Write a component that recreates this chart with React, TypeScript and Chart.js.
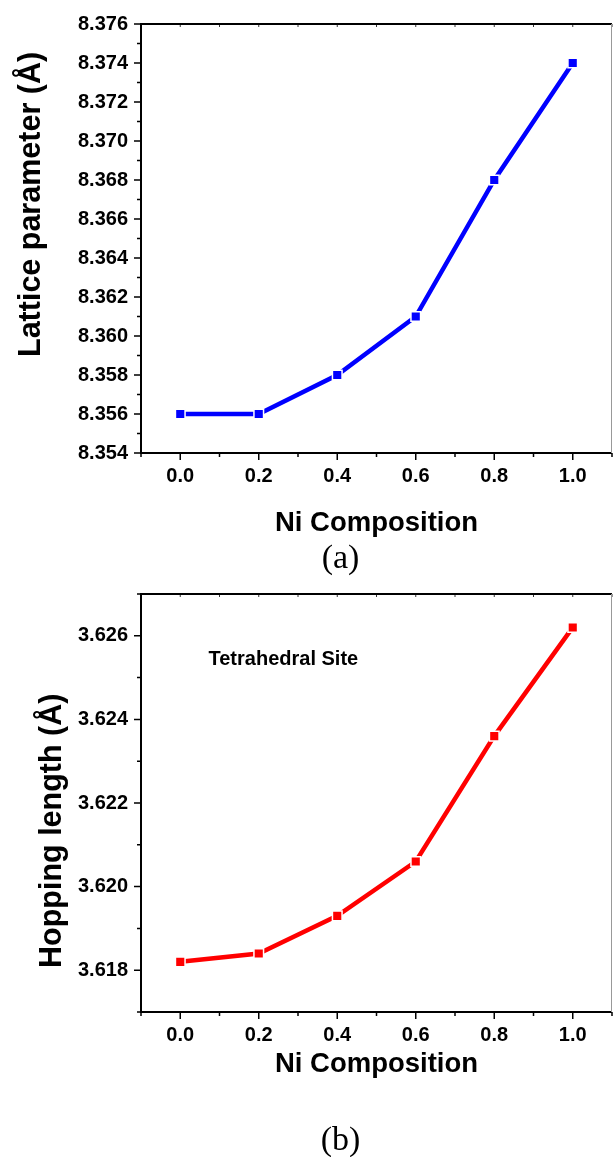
import React, { useEffect, useRef } from "react";
import { Chart, registerables } from "chart.js";

Chart.register(...registerables);

// ---- data ----
const compositions = [0.0, 0.2, 0.4, 0.6, 0.8, 1.0];
const latticeParameter = [8.356, 8.356, 8.358, 8.361, 8.368, 8.374];
const hoppingLength = [3.6182, 3.6184, 3.6193, 3.6206, 3.6236, 3.6262];

// ---- ticks ----
const xTickValues = [0.0, 0.2, 0.4, 0.6, 0.8, 1.0];
const xMinorValues = [-0.1, 0.1, 0.3, 0.5, 0.7, 0.9, 1.1];
const latticeTicks = [8.354, 8.356, 8.358, 8.36, 8.362, 8.364, 8.366, 8.368, 8.37, 8.372, 8.374, 8.376];
const latticeMinor = [8.355, 8.357, 8.359, 8.361, 8.363, 8.365, 8.367, 8.369, 8.371, 8.373, 8.375];
const hoppingTicks = [3.618, 3.62, 3.622, 3.624, 3.626];
const hoppingMinor = [3.617, 3.619, 3.621, 3.623, 3.625, 3.627];

// ---- texts ----
const xTitle = "Ni Composition";
const latticeTitle = "Lattice parameter (\u00C5)";
const hoppingTitle = "Hopping length (\u00C5)";
const noteText = "Tetrahedral Site";
const noteAt = { x: 0.072, y: 3.6253 };

const SANS = '"Liberation Sans", Arial, sans-serif';
const SERIF = '"Liberation Serif", "Times New Roman", serif';

interface PanelSpec {
  values: number[];
  color: string;
  yMin: number;
  yMax: number;
  yTicks: number[];
  yMinor: number[];
  yTitle: string;
  panelLabel: string;
  height: number;
  padTop: number;
  xAxisHeight: number;
  yTitleX: number;
  yTitleStart: number;
  xTitleBase: number;
  labelBase: number;
  note?: boolean;
}

const panels: PanelSpec[] = [
  {
    values: latticeParameter,
    color: "#0000ff",
    yMin: 8.354,
    yMax: 8.376,
    yTicks: latticeTicks,
    yMinor: latticeMinor,
    yTitle: latticeTitle,
    panelLabel: "(a)",
    height: 580,
    padTop: 24,
    xAxisHeight: 127,
    yTitleX: 40,
    yTitleStart: 357,
    xTitleBase: 531,
    labelBase: 568,
  },
  {
    values: hoppingLength,
    color: "#ff0000",
    yMin: 3.617,
    yMax: 3.627,
    yTicks: hoppingTicks,
    yMinor: hoppingMinor,
    yTitle: hoppingTitle,
    panelLabel: "(b)",
    height: 577,
    padTop: 14,
    xAxisHeight: 145,
    yTitleX: 60.5,
    yTitleStart: 388,
    xTitleBase: 491.5,
    labelBase: 570,
    note: true,
  },
];

function Panel({ spec }: { spec: PanelSpec }) {
  const ref = useRef<HTMLCanvasElement | null>(null);

  useEffect(() => {
    const canvas = ref.current;
    if (!canvas) return;

    const framePlugin = {
      id: "frame",
      afterDraw(chart: any) {
        const { ctx, chartArea: a, scales } = chart;
        const xs = scales.x;
        const ys = scales.y;
        ctx.save();
        // ticks
        ctx.strokeStyle = "#000";
        ctx.lineWidth = 1.5;
        ctx.beginPath();
        spec.yTicks.forEach((v) => {
          const p = ys.getPixelForValue(v);
          ctx.moveTo(a.left, p);
          ctx.lineTo(a.left - 7, p);
        });
        spec.yMinor.forEach((v) => {
          const p = ys.getPixelForValue(v);
          ctx.moveTo(a.left, p);
          ctx.lineTo(a.left - 4, p);
        });
        xTickValues.forEach((v) => {
          const p = xs.getPixelForValue(v);
          ctx.moveTo(p, a.bottom);
          ctx.lineTo(p, a.bottom + 7);
        });
        xMinorValues.forEach((v) => {
          const p = xs.getPixelForValue(v);
          ctx.moveTo(p, a.bottom);
          ctx.lineTo(p, a.bottom + 4);
        });
        ctx.stroke();
        // top inward ticks
        ctx.lineWidth = 1;
        ctx.strokeStyle = "#333";
        ctx.beginPath();
        [...xTickValues, ...xMinorValues].forEach((v) => {
          const p = xs.getPixelForValue(v);
          ctx.moveTo(p, a.top);
          ctx.lineTo(p, a.top + 3);
        });
        ctx.stroke();
        // frame
        ctx.strokeStyle = "#000";
        ctx.lineWidth = 2;
        ctx.beginPath();
        ctx.moveTo(a.right, a.top);
        ctx.lineTo(a.left, a.top);
        ctx.lineTo(a.left, a.bottom);
        ctx.lineTo(a.right, a.bottom);
        ctx.stroke();
        ctx.strokeStyle = "#999";
        ctx.lineWidth = 1;
        ctx.beginPath();
        ctx.moveTo(a.right - 0.5, a.top);
        ctx.lineTo(a.right - 0.5, a.bottom);
        ctx.stroke();

        // titles
        ctx.fillStyle = "#000";
        ctx.font = `bold 30.5px ${SANS}`;
        ctx.textAlign = "left";
        ctx.textBaseline = "alphabetic";
        ctx.save();
        ctx.translate(spec.yTitleX, spec.yTitleStart);
        ctx.rotate(-Math.PI / 2);
        ctx.fillText(spec.yTitle, 0, 0);
        ctx.restore();

        ctx.font = `bold 27.5px ${SANS}`;
        ctx.textAlign = "center";
        ctx.fillText(xTitle, (a.left + a.right) / 2, spec.xTitleBase);

        ctx.font = `34px ${SERIF}`;
        ctx.fillText(spec.panelLabel, 340.5, spec.labelBase);

        if (spec.note) {
          ctx.font = `bold 20px ${SANS}`;
          ctx.textAlign = "left";
          ctx.fillText(noteText, xs.getPixelForValue(noteAt.x), ys.getPixelForValue(noteAt.y));
        }
        ctx.restore();
      },
    };

    const chart = new Chart(canvas, {
      type: "line",
      data: {
        datasets: [
          {
            data: compositions.map((x, i) => ({ x, y: spec.values[i] })),
            borderColor: spec.color,
            backgroundColor: spec.color,
            borderWidth: 4.5,
            pointStyle: "rect",
            pointRadius: 6.8,
            pointHoverRadius: 6.8,
            pointBackgroundColor: spec.color,
            pointBorderColor: "#ffffff",
            pointBorderWidth: 1.5,
            tension: 0,
          },
        ],
      },
      options: {
        responsive: false,
        animation: false,
        devicePixelRatio: 1,
        layout: { autoPadding: false, padding: { left: 0, right: 1, top: spec.padTop, bottom: 0 } },
        plugins: {
          legend: { display: false },
          tooltip: { enabled: false },
          title: { display: false },
        },
        scales: {
          x: {
            type: "linear",
            min: -0.1,
            max: 1.1,
            afterBuildTicks: (s: any) => {
              s.ticks = xTickValues.map((value) => ({ value }));
            },
            afterFit: (s: any) => {
              s.height = spec.xAxisHeight;
              s.paddingLeft = 0;
              s.paddingRight = 0;
              s.paddingTop = 0;
              s.paddingBottom = 0;
            },
            grid: { display: false, drawTicks: false },
            border: { display: false },
            ticks: {
              padding: 11,
              color: "#000",
              autoSkip: false,
              maxRotation: 0,
              font: { family: SANS, size: 20, weight: "bold" },
              callback: (v: any) => Number(v).toFixed(1),
            },
          },
          y: {
            type: "linear",
            min: spec.yMin,
            max: spec.yMax,
            afterBuildTicks: (s: any) => {
              s.ticks = spec.yTicks.map((value) => ({ value }));
            },
            afterFit: (s: any) => {
              s.width = 141;
              s.paddingLeft = 0;
              s.paddingRight = 0;
              s.paddingTop = 0;
              s.paddingBottom = 0;
            },
            grid: { display: false, drawTicks: false },
            border: { display: false },
            ticks: {
              padding: 13,
              color: "#000",
              autoSkip: false,
              font: { family: SANS, size: 20, weight: "bold" },
              callback: (v: any) => Number(v).toFixed(3),
            },
          },
        },
      },
      plugins: [framePlugin],
    } as any);

    return () => chart.destroy();
  }, [spec]);

  return (
    <canvas
      ref={ref}
      width={613}
      height={spec.height}
      style={{ display: "block", width: 613, height: spec.height }}
    />
  );
}

export default function App() {
  return (
    <div
      style={{
        position: "absolute",
        left: 0,
        top: 0,
        width: 613,
        height: 1157,
        background: "#ffffff",
        overflow: "hidden",
      }}
    >
      {panels.map((p) => (
        <Panel key={p.panelLabel} spec={p} />
      ))}
    </div>
  );
}
